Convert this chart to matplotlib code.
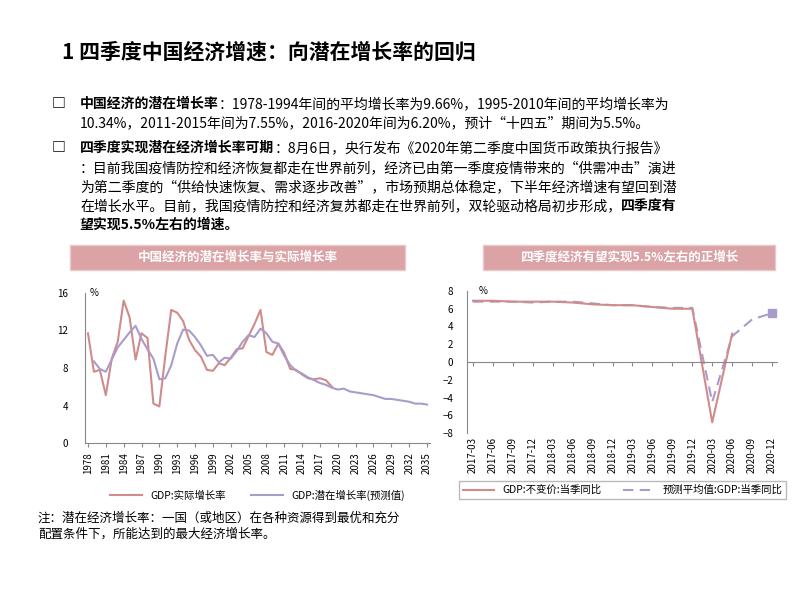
import matplotlib
matplotlib.use("Agg")
import matplotlib.pyplot as plt
from matplotlib.patches import Rectangle

plt.rcParams['font.family'] = ['Noto Sans CJK SC', 'DejaVu Sans']

years_actual = list(range(1978, 2020))
gdp_actual = [11.7, 7.6, 7.8, 5.1, 9.0, 10.8, 15.2, 13.4, 8.9, 11.7, 11.2, 4.2, 3.9, 9.3, 14.2, 13.9,
              13.0, 11.0, 9.9, 9.2, 7.8, 7.7, 8.5, 8.3, 9.1, 10.0, 10.1, 11.4, 12.7, 14.2, 9.7, 9.4,
              10.6, 9.6, 7.9, 7.8, 7.3, 6.9, 6.8, 6.9, 6.7, 6.0]
years_pot = list(range(1979, 2036))
gdp_pot = [8.7, 7.9, 7.6, 8.9, 10.2, 11.0, 11.8, 12.5, 11.1, 10.0, 9.0, 6.8, 6.9, 8.3, 10.6, 12.1,
           12.0, 11.3, 10.4, 9.3, 9.4, 8.6, 9.1, 9.0, 9.8, 10.8, 11.5, 11.3, 12.2, 11.7, 10.8, 10.6,
           9.3, 8.3, 7.7, 7.4, 7.0, 6.7, 6.4, 6.2, 5.9, 5.7, 5.8, 5.5, 5.4, 5.3, 5.2, 5.1, 4.9, 4.7,
           4.7, 4.6, 4.5, 4.4, 4.2, 4.2, 4.1]
quarters = ['2017-03', '2017-06', '2017-09', '2017-12', '2018-03', '2018-06', '2018-09', '2018-12',
            '2019-03', '2019-06', '2019-09', '2019-12', '2020-03', '2020-06', '2020-09', '2020-12']
q_actual = [6.9, 6.9, 6.8, 6.8, 6.8, 6.7, 6.5, 6.4, 6.4, 6.2, 6.0, 6.0, -6.8, 3.2]
q_forecast = [6.8, 6.8, 6.8, 6.7, 6.8, 6.8, 6.6, 6.4, 6.4, 6.2, 6.1, 6.1, -4.5, 2.9, 4.8, 5.5]

RED = '#d08b8b'
PUR = '#a99ccb'

fig = plt.figure(figsize=(8, 6), dpi=100)
W, H = 800, 600
def fx(x): return x / W
def fy(y): return 1 - y / H
renderer = fig.canvas.get_renderer()

def chain(x, y, parts, fs=10):
    for txt, bold in parts:
        t = fig.text(fx(x), fy(y), txt, fontsize=fs, fontweight='bold' if bold else 'normal', va='center')
        bb = t.get_window_extent(renderer)
        x += bb.width

fig.text(fx(62), fy(52), '1 四季度中国经济增速：向潜在增长率的回归', fontsize=15, fontweight='bold', va='center')

fig.text(fx(52), fy(104), '□', fontsize=10, fontweight='bold', va='center')
chain(80, 104, [('中国经济的潜在增长率', True), ('：1978-1994年间的平均增长率为9.66%，1995-2010年间的平均增长率为', False)])
chain(80, 123, [('10.34%，2011-2015年间为7.55%，2016-2020年间为6.20%，预计“十四五”期间为5.5%。', False)])
fig.text(fx(52), fy(148), '□', fontsize=10, fontweight='bold', va='center')
chain(80, 148, [('四季度实现潜在经济增长率可期', True), ('：8月6日，央行发布《2020年第二季度中国货币政策执行报告》', False)])
chain(80, 168, [('：目前我国疫情防控和经济恢复都走在世界前列，经济已由第一季度疫情带来的“供需冲击”演进', False)])
chain(80, 187, [('为第二季度的“供给快速恢复、需求逐步改善”，市场预期总体稳定，下半年经济增速有望回到潜', False)])
chain(80, 206, [('在增长水平。目前，我国疫情防控和经济复苏都走在世界前列，双轮驱动格局初步形成，', False), ('四季度有', True)])
chain(80, 225, [('望实现5.5%左右的增速。', True)])

for (x0, x1, txt) in [(70, 405, '中国经济的潜在增长率与实际增长率'), (483, 775, '四季度经济有望实现5.5%左右的正增长')]:
    fig.patches.append(Rectangle((fx(x0), fy(270)), fx(x1 - x0), (270 - 245) / H,
                                 transform=fig.transFigure, facecolor='#dba3a5', edgecolor='#e8c8c8', lw=1))
    fig.text(fx((x0 + x1) / 2), fy(257.5), txt, fontsize=9, fontweight='bold', color='white', ha='center', va='center')

# left chart
ax1 = fig.add_axes([fx(85), fy(443), fx(430 - 85), (443 - 293) / H])
ax1.plot(years_actual, gdp_actual, color=RED, lw=1.5, label='GDP:实际增长率')
ax1.plot(years_pot, gdp_pot, color=PUR, lw=1.5, label='GDP:潜在增长率(预测值)')
ax1.set_ylim(0, 16)
ax1.set_yticks([0, 4, 8, 12, 16])
ax1.set_xlim(1977.5, 2035.5)
ax1.set_xticks(list(range(1978, 2036, 3)))
ax1.tick_params(axis='x', labelrotation=90, labelsize=7, length=3, color='#888')
ax1.tick_params(axis='y', labelsize=7, length=0, pad=12)
for s in ['top', 'right']:
    ax1.spines[s].set_visible(False)
for s in ['left', 'bottom']:
    ax1.spines[s].set_color('#888')
ax1.text(1978.3, 16, '%', fontsize=7, va='center')
ax1.legend(loc='upper center', bbox_to_anchor=(0.5, -0.25), ncol=2, frameon=False, fontsize=7.5,
           handlelength=3, columnspacing=2.5)

# right chart
ax2 = fig.add_axes([fx(467), fy(433), fx(778 - 467), (433 - 291) / H])
xa = list(range(len(q_actual)))
xf = list(range(len(q_forecast)))
ax2.plot(xf, q_forecast, color=PUR, lw=1.5, ls=(0, (5, 3)), label='预测平均值:GDP:当季同比')
ax2.plot(xa, q_actual, color=RED, lw=1.5, label='GDP:不变价:当季同比')
ax2.plot([xf[-1]], [q_forecast[-1]], marker='s', color=PUR, ms=6, ls='none')
ax2.axhline(0, color='#888', lw=0.8)
ax2.vlines(xf, -0.5, 0, color='#888', lw=0.8)
ax2.set_ylim(-8, 8)
ax2.set_yticks(range(-8, 9, 2))
ax2.set_xlim(-0.3, 15.3)
ax2.set_xticks(xf)
ax2.set_xticklabels(quarters)
ax2.tick_params(axis='x', labelrotation=90, labelsize=7, length=0, pad=3)
ax2.tick_params(axis='y', labelsize=7, length=0, pad=10)
for s in ['top', 'right', 'bottom']:
    ax2.spines[s].set_visible(False)
ax2.spines['left'].set_color('#888')
ax2.text(0.3, 8, '%', fontsize=7, va='center')
h, l = ax2.get_legend_handles_labels()
ax2.legend([h[1], h[0]], [l[1], l[0]], loc='upper center', bbox_to_anchor=(0.5, -0.3), ncol=2,
           frameon=True, fancybox=False, edgecolor='#aaa', fontsize=7.5, handlelength=3, columnspacing=2)

fig.text(fx(38), fy(518), '注：潜在经济增长率：一国（或地区）在各种资源得到最优和充分', fontsize=9, va='center')
fig.text(fx(38), fy(534), '配置条件下，所能达到的最大经济增长率。', fontsize=9, va='center')

fig.savefig('out.png', dpi=100)
